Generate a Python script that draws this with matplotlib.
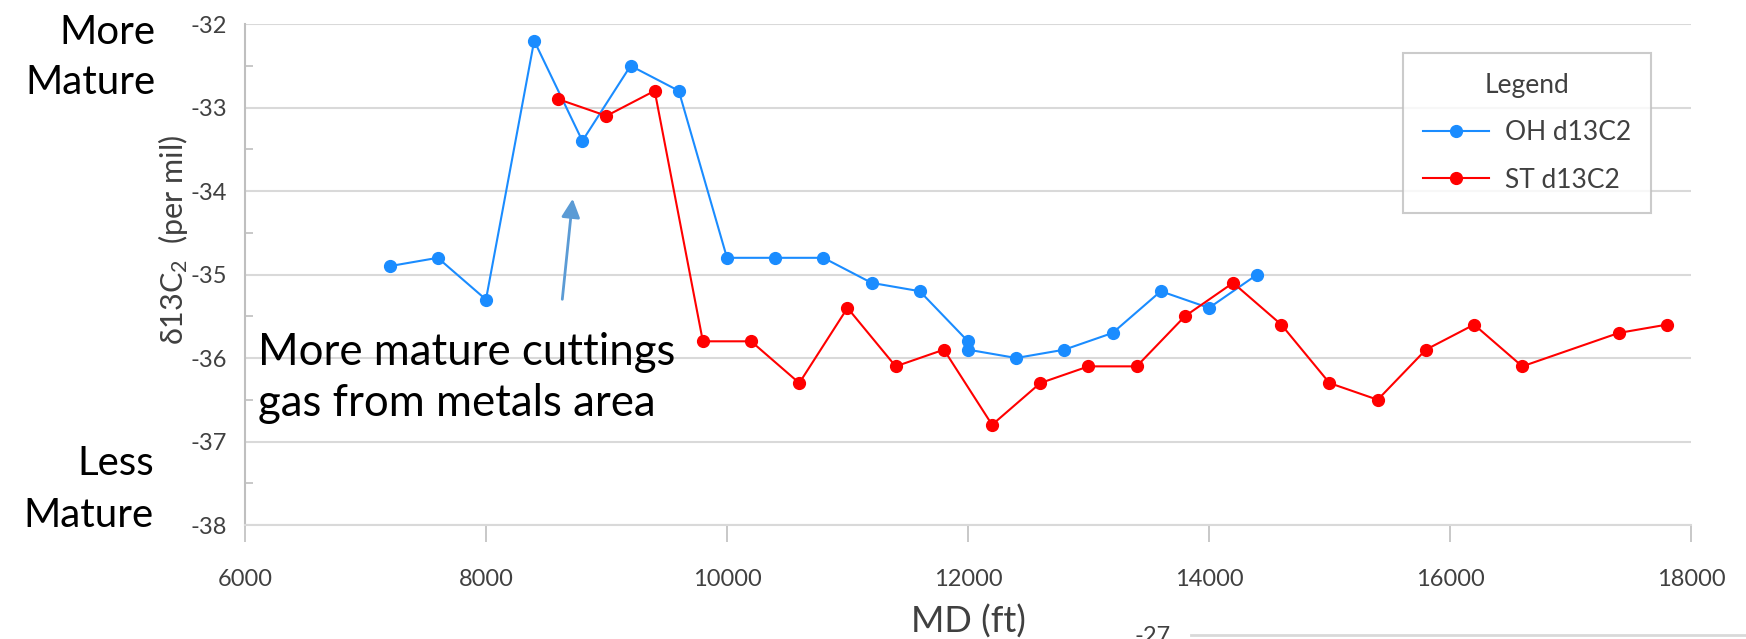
import numpy as np
import matplotlib.pyplot as plt
from matplotlib.lines import Line2D

plt.rcParams['font.family'] = ['Lato', 'DejaVu Sans']
plt.rcParams['mathtext.fontset'] = 'custom'
plt.rcParams['mathtext.rm'] = 'Lato'
plt.rcParams['mathtext.it'] = 'Lato'

# OH cuttings gas
oh_md = [7200, 7600, 8000, 8400, 8800, 9200, 9600, 10000, 10400, 10800,
         11200, 11600, 12000, 12000, 12400, 12800, 13200, 13600, 14000, 14400]
oh_d13c2 = [-34.9, -34.8, -35.3, -32.2, -33.4, -32.5, -32.8, -34.8, -34.8, -34.8,
            -35.1, -35.2, -35.8, -35.9, -36.0, -35.9, -35.7, -35.2, -35.4, -35.0]

# ST cuttings gas
st_md = [8600, 9000, 9400, 9800, 10200, 10600, 11000, 11400, 11800, 12200,
         12600, 13000, 13400, 13800, 14200, 14600, 15000, 15400, 15800, 16200,
         16600, 17400, 17800]
st_d13c2 = [-32.9, -33.1, -32.8, -35.8, -35.8, -36.3, -35.4, -36.1, -35.9, -36.8,
            -36.3, -36.1, -36.1, -35.5, -35.1, -35.6, -36.3, -36.5, -35.9, -35.6,
            -36.1, -35.7, -35.6]

xticks = np.arange(6000, 18001, 2000)
yticks = np.arange(-38, -31.9, 1)

grid_c = '#d9d9d9'
axis_c = '#bfbfbf'
lab_c = '#404040'

fig = plt.figure(figsize=(17.46, 6.39), dpi=100)
ax = fig.add_axes([0.1403, 0.1784, 0.9685 - 0.1403, 0.9624 - 0.1784])

ax.plot(oh_md, oh_d13c2, '-o', color='#1a8cff', lw=1.5, ms=8.5, label='OH d13C2', zorder=3)
ax.plot(st_md, st_d13c2, '-o', color='#ff0000', lw=1.5, ms=8.5, label='ST d13C2', zorder=4)

ax.set_xlim(6000, 18000)
ax.set_ylim(-38, -32)
ax.set_xticks(xticks)
ax.set_yticks(yticks)
ax.set_yticks(np.arange(-37.5, -32, 1), minor=True)
ax.set_yticklabels([f'{int(v)}' for v in yticks])
ax.yaxis.grid(True, color=grid_c, lw=1.5, zorder=0)
ax.tick_params(axis='y', which='major', length=0, pad=13, labelsize=17, labelcolor=lab_c)
ax.tick_params(axis='y', which='minor', direction='in', length=6, width=1.2, color=axis_c)
ax.tick_params(axis='x', which='major', direction='out', length=12, width=1.2, color=axis_c,
               pad=20, labelsize=17, labelcolor=lab_c)
for s in ['top', 'right']:
    ax.spines[s].set_visible(False)
ax.spines['left'].set_color(axis_c)
ax.spines['left'].set_linewidth(1.5)
ax.spines['bottom'].set_color(grid_c)
ax.spines['bottom'].set_linewidth(1.5)

ax.set_xlabel('MD (ft)', fontsize=26, color=lab_c, labelpad=10)

fig.text(0.099, 0.625, r'δ13C$_2$  (per mil)', rotation=90, fontsize=22, color=lab_c,
         ha='center', va='center')

fig.text(0.089, 0.910, 'More\nMature', ha='right', va='center', fontsize=29,
         linespacing=1.45)
fig.text(0.088, 0.234, 'Less\nMature', ha='right', va='center', fontsize=29,
         linespacing=1.5)

ax.annotate('', xy=(8722, -34.06), xytext=(8631, -35.33),
            arrowprops=dict(arrowstyle='-|>', color='#5b9bd5', lw=2, mutation_scale=28))
ax.text(6110, -36.24, 'More mature cuttings\ngas from metals area', fontsize=31.5,
        ha='left', va='center', linespacing=1.3, zorder=5)

leg = ax.legend(loc='upper left', bbox_to_anchor=(0.801, 0.942), borderaxespad=0,
                title='Legend', fontsize=19, title_fontsize=19, frameon=True,
                fancybox=False, handlelength=2.5, borderpad=0.75, labelspacing=0.85,
                handletextpad=0.6)
leg.get_frame().set_edgecolor(axis_c)
leg.get_frame().set_linewidth(1.5)
leg.get_title().set_color(lab_c)
for t in leg.get_texts():
    t.set_color(lab_c)

# edge of the next panel below
fig.text(0.660, -0.012, '-27', fontsize=17, color=lab_c, ha='center', va='bottom')
fig.add_artist(Line2D([0.682, 1.0], [0.006, 0.006], transform=fig.transFigure,
                      color=grid_c, lw=2))

fig.savefig('out.png', dpi=100)
